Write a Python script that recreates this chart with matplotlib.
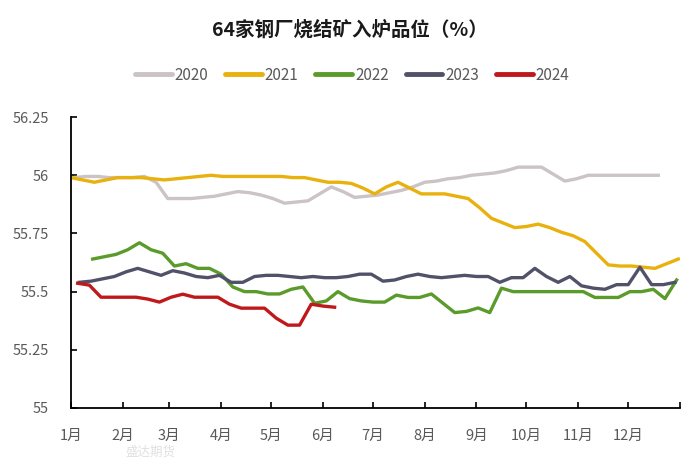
import matplotlib
matplotlib.use('Agg')
import matplotlib.pyplot as plt
import pandas as pd

plt.rcParams['font.family'] = ['Noto Sans CJK SC', 'DejaVu Sans']

# weekly (Friday) readings, % Fe
v2020 = [55.99, 55.995, 55.995, 55.99, 55.99, 55.99, 55.995, 55.97, 55.90, 55.90,
         55.90, 55.905, 55.91, 55.92, 55.93, 55.925, 55.915, 55.90, 55.88, 55.885,
         55.89, 55.92, 55.95, 55.93, 55.905, 55.91, 55.915, 55.925, 55.935, 55.95,
         55.97, 55.975, 55.985, 55.99, 56.00, 56.005, 56.01, 56.02, 56.035, 56.035,
         56.035, 56.005, 55.975, 55.985, 56.00, 56.00, 56.00, 56.00, 56.00, 56.00, 56.00]
v2021 = [55.99, 55.98, 55.97, 55.98, 55.99, 55.99, 55.99, 55.985, 55.98, 55.985,
         55.99, 55.995, 56.00, 55.995, 55.995, 55.995, 55.995, 55.995, 55.995, 55.99,
         55.99, 55.98, 55.97, 55.97, 55.965, 55.945, 55.92, 55.95, 55.97, 55.945,
         55.92, 55.92, 55.92, 55.91, 55.90, 55.86, 55.815, 55.795, 55.775, 55.78,
         55.79, 55.775, 55.755, 55.74, 55.715, 55.665, 55.615, 55.61, 55.61, 55.605,
         55.60, 55.62, 55.64]
v2022 = [55.64, 55.65, 55.66, 55.68, 55.71, 55.68, 55.665, 55.61, 55.62, 55.60,
         55.60, 55.575, 55.52, 55.50, 55.50, 55.49, 55.49, 55.51, 55.52, 55.45,
         55.46, 55.50, 55.47, 55.46, 55.455, 55.455, 55.485, 55.475, 55.475, 55.49,
         55.45, 55.41, 55.415, 55.43, 55.41, 55.515, 55.50, 55.50, 55.50, 55.50,
         55.50, 55.50, 55.50, 55.475, 55.475, 55.475, 55.50, 55.50, 55.51, 55.47, 55.55]
v2023 = [55.54, 55.545, 55.555, 55.565, 55.585, 55.60, 55.585, 55.57, 55.59, 55.58,
         55.565, 55.56, 55.57, 55.54, 55.54, 55.565, 55.57, 55.57, 55.565, 55.56,
         55.565, 55.56, 55.56, 55.565, 55.575, 55.575, 55.545, 55.55, 55.565, 55.575,
         55.565, 55.56, 55.565, 55.57, 55.565, 55.565, 55.54, 55.56, 55.56, 55.60,
         55.565, 55.54, 55.565, 55.525, 55.515, 55.51, 55.53, 55.53, 55.605, 55.53,
         55.53, 55.54]
v2024 = [55.536, 55.528, 55.476, 55.476, 55.476, 55.476, 55.468, 55.455, 55.476, 55.489,
         55.476, 55.476, 55.476, 55.446, 55.429, 55.429, 55.429, 55.386, 55.356, 55.356,
         55.446, 55.438, 55.433]

years = ['2020', '2021', '2022', '2023', '2024']
series = [v2020, v2021, v2022, v2023, v2024]
first_week = [0, 0, 1, 0, 0]  # 2022 starts from the second Friday
colors = ['#CBC3C6', '#E9B10E', '#5A9B2B', '#51516A', '#C0191B']

month_labels = ['%d月' % m for m in range(1, 13)]
month_starts = [0, 31, 59, 90, 120, 151, 181, 212, 243, 273, 304, 334, 365]

fig = plt.figure(figsize=(7.0, 4.61), dpi=100)
ax = fig.add_axes([0.1014, 0.115, 0.870, 0.631])

for yr, vals, fw, c in zip(years, series, first_week, colors):
    fridays = pd.date_range(yr + '-01-01', yr + '-12-31', freq='W-FRI')
    x = (fridays.dayofyear - 1)[fw:fw + len(vals)]
    ax.plot(x, vals, color=c, lw=2.4, label=yr, solid_joinstyle='round')

ax.set_xlim(0, 365)
ax.set_ylim(55, 56.25)
ax.set_xticks(month_starts)
ax.set_xticklabels(month_labels + [''])
ax.set_yticks([55, 55.25, 55.5, 55.75, 56, 56.25])
ax.set_yticklabels(['55', '55.25', '55.5', '55.75', '56', '56.25'])
ax.tick_params(axis='both', direction='in', length=4, width=1.2,
               colors='black', labelcolor='#595959', labelsize=10.5)
ax.tick_params(axis='x', pad=15)
ax.tick_params(axis='y', pad=16)
for s in ['top', 'right']:
    ax.spines[s].set_visible(False)
for s in ['left', 'bottom']:
    ax.spines[s].set_linewidth(1.3)

fig.text(0.5, 0.935, '64家钢厂烧结矿入炉品位（%）', ha='center', va='center',
         fontsize=14, fontweight='bold', color='#1a1a1a')

leg = fig.legend(loc='center', bbox_to_anchor=(0.503, 0.837), ncol=5, frameon=False,
                 fontsize=11, handlelength=2.4, handletextpad=0.2, columnspacing=1.1)
for t in leg.get_texts():
    t.set_color('#595959')
for h in leg.get_lines():
    h.set_linewidth(3.5)
    h.set_solid_capstyle('round')

# faint watermark
fig.text(0.215, 0.018, '盛达期货', ha='center', va='center', fontsize=9,
         color='#d8d8d8', alpha=0.8, zorder=0)

fig.savefig('out.png', dpi=100)
